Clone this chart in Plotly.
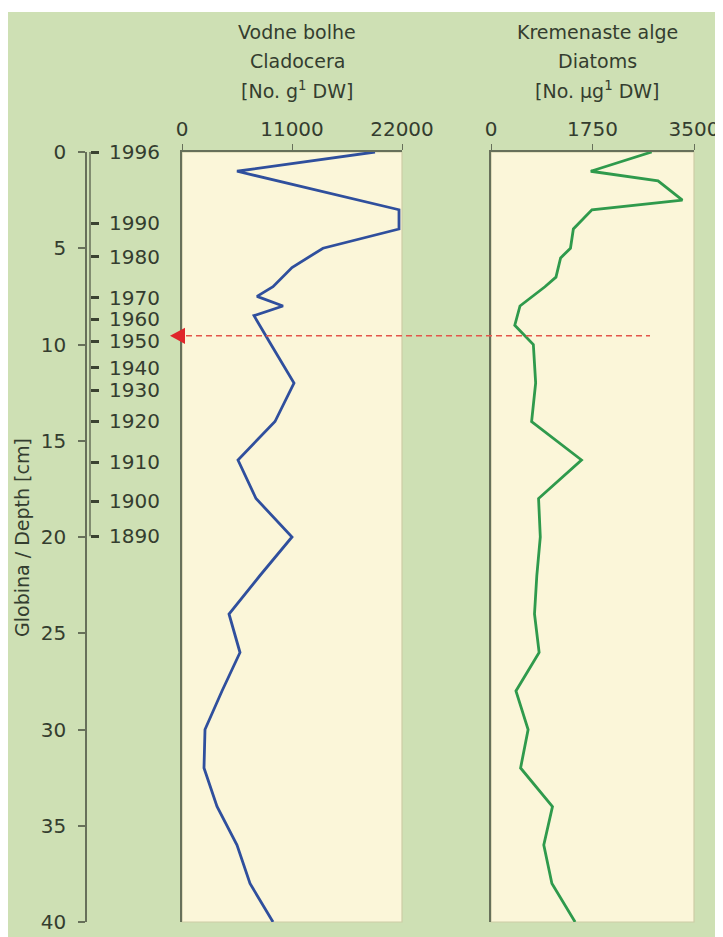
import plotly.graph_objects as go

# page window is 723x937; the page body has an 8px margin, so the figure starts at (8, 8)
OFF = 8
W, H = 723 - OFF, 937 - OFF

# ---------------- data ----------------
clad_depth = [0, 1, 3, 4, 5, 6, 7, 7.5, 8, 8.5, 10, 12, 14, 16, 18, 20, 22, 24, 26, 28, 30, 32, 34, 36, 38, 40]
clad_vals = [19300, 5500, 21700, 21700, 14100, 11000, 9100, 7500, 10100, 7200, 8900, 11200, 9300, 5600,
             7400, 11000, 7800, 4700, 5800, 4000, 2300, 2200, 3500, 5500, 6800, 9100]

diat_depth = [0, 1, 1.5, 2.5, 3, 4, 5, 5.5, 6.5, 7, 8, 9, 10, 12, 14, 16, 18, 20, 22, 24, 26, 28, 30, 32, 34, 36, 38, 40]
diat_vals = [2770, 1720, 2880, 3300, 1740, 1420, 1370, 1200, 1120, 930, 500, 410, 730, 770, 700, 1560,
             820, 850, 790, 750, 830, 430, 640, 510, 1060, 910, 1050, 1450]

depth_ticks = [0, 5, 10, 15, 20, 25, 30, 35, 40]
year_depths = [0, 3.71, 5.45, 7.56, 8.69, 9.83, 11.22, 12.38, 13.99, 16.11, 18.14, 19.96]
year_labels = ["1996", "1990", "1980", "1970", "1960", "1950", "1940", "1930", "1920", "1910", "1900", "1890"]

clad_ticks = [0, 11000, 22000]
diat_ticks = [0, 1750, 3500]
marker_depth = 9.55

clad_title = ["Vodne bolhe", "Cladocera", "[No. g<sup>1</sup> DW]"]
diat_title = ["Kremenaste alge", "Diatoms", "[No. µg<sup>1</sup> DW]"]
y_title = "Globina / Depth [cm]"

# ---------------- style ----------------
FONT = "DejaVu Sans"
TXT = "#343d2f"
AX = "#67705a"
GREEN_BG = "#cee0b4"
CREAM = "#fbf6d9"
BLUE = "#2f4f9d"
GREEN = "#2f9a4c"
RED = "#e0262b"


def px_x(p):
    return (p - OFF) / W


def px_y(p):
    return 1 - (p - OFF) / H


PLOT_TOP, PLOT_BOT = 152, 922
ydom = [px_y(PLOT_BOT), px_y(PLOT_TOP)]

fig = go.Figure()
fig.add_trace(go.Scatter(x=clad_vals, y=clad_depth, mode="lines", xaxis="x", yaxis="y",
                         line=dict(color=BLUE, width=2.8), hoverinfo="skip"))
fig.add_trace(go.Scatter(x=diat_vals, y=diat_depth, mode="lines", xaxis="x2", yaxis="y2",
                         line=dict(color=GREEN, width=2.8), hoverinfo="skip"))
# carriers for the depth and year axes
fig.add_trace(go.Scatter(x=[None], y=[None], xaxis="x", yaxis="y3", hoverinfo="skip"))
fig.add_trace(go.Scatter(x=[None], y=[None], xaxis="x", yaxis="y4", hoverinfo="skip"))

common_x = dict(side="top", ticks="outside", ticklen=6, tickcolor=AX, showline=True, linecolor=AX,
                linewidth=1.5, showgrid=False, zeroline=False,
                tickfont=dict(family=FONT, size=20, color=TXT))
common_y = dict(domain=ydom, range=[40, 0], showline=True, linecolor=AX, linewidth=1.5,
                showticklabels=False, ticks="", showgrid=False, zeroline=False)

fig.update_layout(
    width=W, height=H,
    margin=dict(l=0, r=0, t=0, b=0, pad=0, autoexpand=False),
    paper_bgcolor=GREEN_BG, plot_bgcolor=CREAM,
    showlegend=False,
    xaxis=dict(domain=[px_x(182), px_x(402)], range=[0, 22000], tickvals=clad_ticks,
               ticktext=[str(v) for v in clad_ticks], anchor="y", **common_x),
    yaxis=dict(anchor="x", **common_y),
    xaxis2=dict(domain=[px_x(491), px_x(694)], range=[0, 3500], tickvals=diat_ticks,
                ticktext=[str(v) for v in diat_ticks], anchor="y2", **common_x),
    yaxis2=dict(anchor="x2", **common_y),
    yaxis3=dict(overlaying="y", anchor="free", position=px_x(86), side="left", range=[40, 0],
                tickvals=depth_ticks, ticks="outside", ticklen=7, tickcolor=AX, tickwidth=1.5,
                showline=True, linecolor=AX, linewidth=1.5, showgrid=False, zeroline=False,
                ticklabelstandoff=8, tickfont=dict(family=FONT, size=20, color=TXT)),
    yaxis4=dict(overlaying="y", anchor="free", position=px_x(90), side="right", range=[40, 0],
                tickvals=year_depths, ticktext=year_labels, ticks="outside", ticklen=8,
                tickwidth=3, tickcolor="#3a4231", showline=False, showgrid=False, zeroline=False,
                ticklabelstandoff=6, tickfont=dict(family=FONT, size=20, color=TXT)),
)

shapes = [
    # white strip at the top of the figure
    dict(type="rect", xref="paper", yref="paper", x0=-0.01, x1=1.01, y0=px_y(12), y1=1.01,
         fillcolor="white", line=dict(width=0), layer="below"),
    # faint frames of the panels
    dict(type="rect", xref="x domain", yref="y domain", x0=0, x1=1, y0=0, y1=1,
         line=dict(color="#cdcca6", width=1.2), layer="below"),
    dict(type="rect", xref="x2 domain", yref="y2 domain", x0=0, x1=1, y0=0, y1=1,
         line=dict(color="#cdcca6", width=1.2), layer="below"),
    # year axis line
    dict(type="line", xref="paper", yref="y", x0=px_x(90), x1=px_x(90), y0=year_depths[0],
         y1=year_depths[-1], line=dict(color=AX, width=1.5)),
    # red dashed marker line
    dict(type="line", xref="paper", yref="y", x0=px_x(186), x1=px_x(650), y0=marker_depth,
         y1=marker_depth, line=dict(color="#e3564b", width=1.5, dash="6px,4px")),
    # red triangle
    dict(type="path", xref="paper", yref="y",
         path=f"M {px_x(170)},{marker_depth} L {px_x(185)},{marker_depth - 0.42} "
              f"L {px_x(185)},{marker_depth + 0.42} Z",
         fillcolor=RED, line=dict(width=0)),
]
fig.update_layout(shapes=shapes)

ann = []
for i, t in enumerate(clad_title):
    ann.append(dict(text=t, x=px_x(297), y=px_y(32 + 29 * i), xref="paper", yref="paper",
                    showarrow=False, xanchor="center", yanchor="middle",
                    font=dict(family=FONT, size=19, color=TXT)))
for i, t in enumerate(diat_title):
    ann.append(dict(text=t, x=px_x(597), y=px_y(32 + 29 * i), xref="paper", yref="paper",
                    showarrow=False, xanchor="center", yanchor="middle",
                    font=dict(family=FONT, size=19, color=TXT)))
ann.append(dict(text=y_title, x=px_x(22), y=px_y(538), xref="paper", yref="paper",
                showarrow=False, textangle=-90, xanchor="center", yanchor="middle",
                font=dict(family=FONT, size=19, color=TXT)))
fig.update_layout(annotations=ann)

fig.write_html("out.html")
